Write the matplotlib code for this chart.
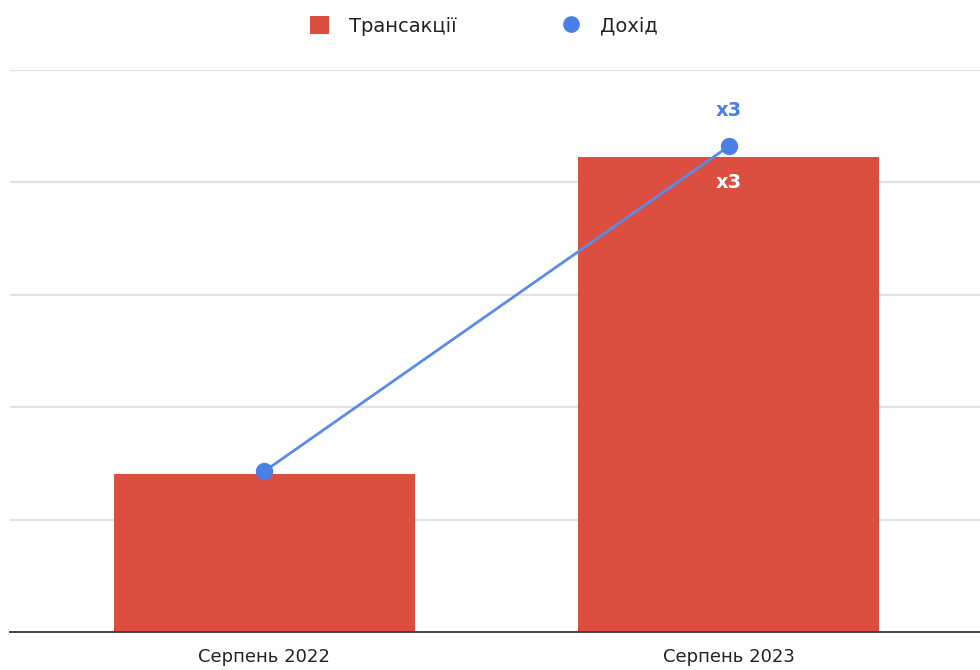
import matplotlib.pyplot as plt
from matplotlib.lines import Line2D
from matplotlib.patches import Patch

plt.rcParams['font.family'] = ['DejaVu Sans']

# Data
months = ['Серпень 2022', 'Серпень 2023']
transactions = [1.41, 4.23]
revenue = [1.43, 4.32]
bar_labels = ['', 'x3']
line_labels = ['', 'x3']

red = '#DB4E40'
blue = '#4A7FE6'

fig = plt.figure(figsize=(9.8, 6.7), dpi=100)
ax = fig.add_axes([10 / 980, 38 / 670, 973 / 980, 562 / 670])

x = list(range(len(months)))
ax.bar(x, transactions, width=0.647, color=red, zorder=2)
ax.plot(x, revenue, color='#5B8BE8', lw=2, zorder=3)
ax.plot(x, revenue, 'o', color=blue, ms=11.5, zorder=4)

for xi, v, lab in zip(x, transactions, bar_labels):
    if lab:
        ax.text(xi, v - 0.23, lab, ha='center', va='center', color='white',
                fontsize=14, fontweight='bold', zorder=5)
for xi, v, lab in zip(x, revenue, line_labels):
    if lab:
        ax.text(xi, v + 0.32, lab, ha='center', va='center', color=blue,
                fontsize=14, fontweight='bold', zorder=5)

ax.set_xlim(-0.548, 1.548)
ax.set_ylim(0, 5)
ax.set_yticks([1, 2, 3, 4, 5])
ax.yaxis.grid(True, color='#e2e2e2', lw=1.6, zorder=0)
ax.tick_params(left=False, labelleft=False, bottom=False)
ax.set_xticks(x)
ax.set_xticklabels(months, fontsize=13, color='#222222')
ax.tick_params(axis='x', pad=8)
for s in ['top', 'right', 'left']:
    ax.spines[s].set_visible(False)
ax.spines['bottom'].set_color('#444444')
ax.spines['bottom'].set_linewidth(1.4)
ax.spines['bottom'].set_zorder(6)

handles = [
    Patch(facecolor=red, edgecolor='none'),
    Line2D([], [], marker='o', ls='none', color=blue, ms=11),
]
fig.legend(handles, ['Трансакції', 'Дохід'], loc='center', bbox_to_anchor=(484 / 980, 1 - 26 / 670),
           ncol=2, frameon=False, fontsize=14, handlelength=1.0, handleheight=1.0,
           columnspacing=5.4, handletextpad=1.0, labelcolor='#222222')

fig.savefig('out.png', dpi=100)
